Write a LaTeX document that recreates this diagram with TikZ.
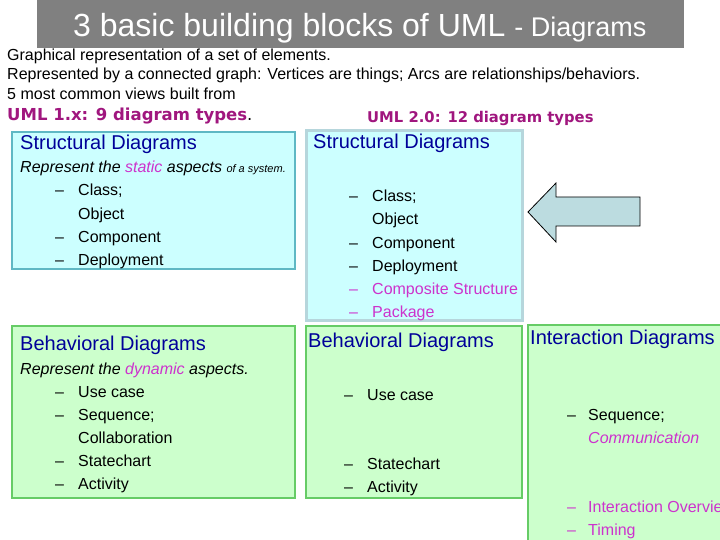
\documentclass[tikz,border=0pt]{standalone}
\usepackage{fontspec}
\setmainfont{Liberation Sans}
\newfontfamily\headfont{DejaVu Sans}
\usepackage{xcolor}
\usetikzlibrary{positioning}
\definecolor{titlegray}{HTML}{808080}
\definecolor{umlpurple}{HTML}{A0167E}
\definecolor{hilite}{HTML}{CC33CC}
\definecolor{headblue}{HTML}{000099}
\definecolor{structfill}{HTML}{CCFFFF}
\definecolor{structline}{HTML}{5FB8C4}
\definecolor{newline}{HTML}{B6D6DC}
\definecolor{behavfill}{HTML}{CCFFCC}
\definecolor{behavline}{HTML}{66CC66}
\definecolor{arrowfill}{HTML}{BCDCE0}

\begin{document}
\begin{tikzpicture}[x=1pt,y=-1pt,
  txt/.style={anchor=base west,inner sep=0pt,font=\fontsize{16}{18}\selectfont},
  umlhead/.style={anchor=base west,inner sep=0pt,text=umlpurple,font=\headfont\bfseries},
  boxhead/.style={anchor=base west,inner sep=0pt,text=headblue,font=\fontsize{20}{22}\selectfont},
  entry/.style={anchor=base west,inner sep=0pt,font=\fontsize{16}{18}\selectfont},
  newentry/.style={entry,text=hilite}]
\clip (0,0) rectangle (720,540);
\fill[white] (0,0) rectangle (720,540);

% title bar
\fill[titlegray] (37,0) rectangle (684,48);
\node[anchor=base west,inner sep=0pt,text=white] (title) at (73,37)
  {\fontsize{32}{34}\selectfont 3 basic building blocks of UML \fontsize{27}{30}\selectfont- Diagrams};

% intro lines
\node[txt] (l1) at (7,61) {Graphical representation of a set of elements.};
\node[txt] (l2) at (7,80) {Represented by a connected graph: Vertices are things; Arcs are relationships/behaviors.};
\node[txt] (l3) at (7,100) {5 most common views built from};
\node[umlhead,font=\headfont\bfseries\fontsize{16.5}{18}\selectfont] (uml1) at (7,121)
  {UML 1.x: 9 diagram types\textcolor{black}{\mdseries.}};
\node[umlhead,font=\headfont\bfseries\fontsize{14.8}{17}\selectfont] (uml2) at (367,123) {UML 2.0: 12 diagram types};

% boxes
\draw[structline,fill=structfill,line width=1.2pt] (12,132) rectangle (295,269);
\draw[newline,fill=structfill,line width=3pt] (306,131) rectangle (522,320);
\draw[behavline,fill=behavfill,line width=1.2pt] (12,326) rectangle (295,498);
\draw[behavline,fill=behavfill,line width=1.2pt] (306,326) rectangle (522,498);
\draw[behavline,fill=behavfill,line width=1.2pt] (528,325) rectangle (740,560);

% arrow from the new list to the old one
\draw[fill=arrowfill,line width=0.8pt,line join=miter]
  (528,212) -- (556,183) -- (556,197) -- (640,197) -- (640,226) -- (556,226) -- (556,242) -- cycle;

% UML 1.x structural
\node[boxhead] (s1) at (20,150) {Structural Diagrams};
\node[entry,font=\fontsize{16}{18}\selectfont\itshape] (s1d) at (20,173)
  {Represent the \textcolor{hilite}{static} aspects {\fontsize{11}{13}\selectfont of a system.}};
\foreach \y/\t in {196/Class;,242/Component,265/Deployment}{
  \node[entry] at (55,\y) {--};
  \node[entry] at (78,\y) {\t};
}
\node[entry] (s1o) at (78,219) {Object};

% UML 2.0 structural
\node[boxhead] (s2) at (313,149) {Structural Diagrams};
\foreach \y/\t in {202/Class;,248/Component,271/Deployment}{
  \node[entry] at (349,\y) {--};
  \node[entry] at (372,\y) {\t};
}
\node[entry] (s2o) at (372,225) {Object};
\foreach \y/\t in {294/Composite Structure,317/Package}{
  \node[newentry] at (349,\y) {--};
  \node[newentry] at (372,\y) {\t};
}

% UML 1.x behavioral
\node[boxhead] (b1) at (20,350) {Behavioral Diagrams};
\node[entry,font=\fontsize{16}{18}\selectfont\itshape] (b1d) at (20,374)
  {Represent the \textcolor{hilite}{dynamic} aspects.};
\foreach \y/\t in {397/Use case,420/Sequence;,466/Statechart,489/Activity}{
  \node[entry] at (55,\y) {--};
  \node[entry] at (78,\y) {\t};
}
\node[entry] (b1c) at (78,443) {Collaboration};

% UML 2.0 behavioral
\node[boxhead] (b2) at (308,347) {Behavioral Diagrams};
\foreach \y/\t in {400/Use case,469/Statechart,492/Activity}{
  \node[entry] at (344,\y) {--};
  \node[entry] at (367,\y) {\t};
}

% UML 2.0 interaction
\node[boxhead] (i2) at (530,344) {Interaction Diagrams};
\node[entry] at (567,420) {--};
\node[entry] (i2s) at (588,420) {Sequence;};
\node[newentry,font=\fontsize{16}{18}\selectfont\itshape] (i2c) at (588,443) {Communication};
\foreach \y/\t in {512/Interaction Overview,535/Timing}{
  \node[newentry] at (567,\y) {--};
  \node[newentry] at (588,\y) {\t};
}
\end{tikzpicture}
\end{document}
